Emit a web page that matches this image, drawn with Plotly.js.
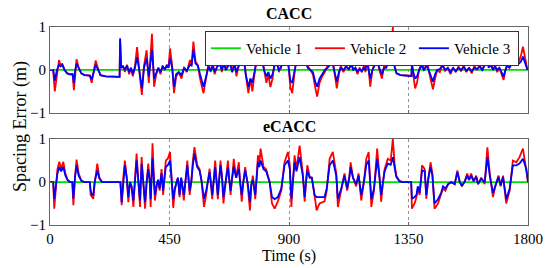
<!DOCTYPE html>
<html>
<head>
<meta charset="utf-8">
<script src="https://cdn.plot.ly/plotly-3.0.1.min.js"></script>
<style>
  html, body { margin: 0; padding: 0; background: #fff; }
  #plot { width: 550px; height: 268px; }
</style>
</head>
<body>
<div id="plot"></div>
<script>
// CACC (верхний график): время, ошибка дистанции у машин 2 и 3
const timeCacc = [0, 12, 18, 26, 34, 40, 46, 55, 65, 75, 85, 90, 95, 100, 108, 118, 130, 150, 157, 162, 172, 180, 190, 210, 262, 264, 268, 275, 282, 290, 298, 305, 312, 320, 328, 336, 346, 354, 364, 372, 378, 384, 392, 400, 408, 416, 424, 432, 440, 446, 452, 460, 467, 475, 485, 495, 505, 515, 527, 533, 540, 548, 557, 565, 578, 588, 597, 605, 613, 620, 630, 640, 647, 655, 662, 670, 678, 686, 695, 702, 710, 718, 728, 737, 747, 755, 762, 770, 780, 790, 798, 806, 815, 822, 830, 838, 846, 854, 862, 870, 878, 884, 890, 898, 905, 912, 920, 928, 934, 942, 950, 960, 970, 980, 990, 1000, 1006, 1015, 1025, 1035, 1045, 1055, 1062, 1070, 1080, 1088, 1095, 1105, 1115, 1125, 1135, 1142, 1150, 1158, 1166, 1174, 1182, 1188, 1193, 1200, 1206, 1214, 1222, 1231, 1240, 1250, 1258, 1266, 1274, 1282, 1291, 1298, 1305, 1320, 1361, 1363, 1368, 1375, 1382, 1390, 1400, 1408, 1420, 1430, 1442, 1450, 1458, 1468, 1478, 1488, 1498, 1508, 1518, 1528, 1538, 1548, 1558, 1568, 1578, 1588, 1598, 1608, 1618, 1628, 1636, 1645, 1652, 1660, 1668, 1676, 1684, 1692, 1700, 1708, 1715, 1722, 1730, 1740, 1750, 1758, 1766, 1774, 1781, 1790, 1798];
const v2Cacc = [0, 0, -0.5, -0.1, 0.23, 0.1, 0.15, 0, -0.08, -0.1, -0.1, -0.47, -0.05, 0.25, 0.05, -0.08, -0.12, -0.13, -0.3, -0.1, 0.22, 0.05, -0.12, -0.15, -0.16, 0.7, 0.05, 0.1, -0.05, 0.12, -0.1, 0.05, -0.15, 0.1, 0.53, 0, -0.58, 0.1, 0.46, -0.3, 0.2, 0.84, -0.39, -0.1, 0.05, -0.1, 0.1, 0, 0.12, 0.05, 0.5, 0.1, -0.54, -0.15, -0.05, -0.2, 0.05, -0.05, 0.23, 0.1, 0.66, 0.2, 0.1, -0.2, -0.54, -0.2, 0.15, -0.05, 0.15, -0.1, 0.1, 0.23, -0.05, 0.23, 0, 0.12, 0.27, -0.05, 0.2, -0.15, 0.1, 0.3, 0.62, -0.1, -0.54, -0.2, -0.5, -0.1, 0.35, 0.7, 0.3, 0, -0.3, -0.1, -0.4, -0.2, 0.2, 0.3, -0.05, 0.1, 0.55, 0.3, 0.6, 0.1, -0.4, -0.54, -0.1, 0.3, 0.5, 0.1, 0.3, 0.45, 0.1, 0, -0.1, -0.45, -0.62, -0.3, -0.15, -0.05, 0.1, 0.2, 0.35, 0, -0.43, -0.1, 0.1, -0.05, 0.1, 0, 0.2, 0, 0.05, -0.1, 0.05, -0.05, 0.1, -0.05, 0.39, 0, -0.39, 0, 0.15, 0.43, 0, -0.2, 0.1, 0.05, 0.3, 0.1, 1.0, 0.1, -0.08, -0.12, -0.14, 0.1, -0.1, -0.43, -0.3, 0, 0.2, 0, 0.15, -0.1, -0.45, -0.2, 0, -0.05, 0.15, -0.02, 0.05, -0.1, 0.05, -0.05, 0.08, -0.03, 0.1, -0.05, 0.05, -0.08, 0.1, 0, 0.12, -0.02, 0.15, 0.47, 0.1, 0.2, 0, 0.1, -0.05, 0.05, -0.1, -0.23, 0, 0.15, 0.05, 0.25, 0.2, 0.3, 0.2, 0.35, 0.54, 0.2, 0];
const v3Cacc = [0, 0, -0.25, 0, 0.12, 0.08, 0.12, 0, -0.08, -0.1, -0.1, -0.3, 0, 0.15, 0.05, -0.08, -0.12, -0.13, -0.22, -0.08, 0.12, 0.02, -0.12, -0.15, -0.16, 0.74, 0.05, 0.08, 0, 0.1, -0.05, 0.05, -0.1, 0.05, 0.3, 0, -0.43, 0.05, 0.27, -0.15, 0.15, 0.47, -0.2, -0.05, 0.05, -0.05, 0.08, 0.02, 0.1, 0.05, 0.27, 0.05, -0.39, -0.1, -0.05, -0.12, 0.05, -0.02, 0.12, 0.1, 0.47, 0.15, 0.1, -0.1, -0.39, -0.15, 0.08, -0.02, 0.1, -0.05, 0.08, 0.12, 0, 0.15, 0, 0.08, 0.15, -0.05, 0.12, -0.05, 0.08, 0.15, 0.35, -0.1, -0.39, -0.2, -0.3, -0.05, 0.3, 0.47, 0.2, 0, -0.15, -0.05, -0.2, -0.1, 0.1, 0.15, 0, 0.05, 0.3, 0.2, 0.35, 0.1, -0.25, -0.3, -0.05, 0.2, 0.35, 0.1, 0.2, 0.3, 0.05, 0, -0.05, -0.3, -0.39, -0.2, -0.1, 0, 0.05, 0.12, 0.2, 0, -0.27, -0.05, 0.05, 0, 0.08, 0.02, 0.12, 0, 0.05, -0.05, 0.03, -0.03, 0.05, 0, 0.2, 0, -0.2, 0, 0.1, 0.2, 0.05, -0.1, 0.05, 0.05, 0.2, 0.1, 0.45, 0.05, -0.08, -0.12, -0.14, 0.15, -0.05, -0.2, -0.15, 0, 0.1, 0, 0.1, -0.05, -0.27, -0.1, 0, 0.02, 0.1, 0, 0.05, -0.05, 0.05, -0.03, 0.05, 0, 0.07, -0.02, 0.05, -0.03, 0.05, 0.02, 0.08, 0, 0.1, 0.27, 0.05, 0.12, 0, 0.08, 0, 0.05, -0.05, -0.15, 0, 0.1, 0.05, 0.15, 0.12, 0.2, 0.15, 0.2, 0.31, 0.15, 0];

// eCACC (нижний график)
const timeEcacc = [0, 12, 16, 22, 28, 35, 42, 50, 58, 66, 75, 84, 88, 94, 100, 108, 118, 130, 150, 153, 158, 163, 168, 178, 186, 196, 265, 270, 276, 282, 289, 295, 301, 307, 314, 320, 326, 333, 339, 345, 351, 358, 364, 370, 376, 379, 386, 391, 395, 402, 407, 413, 420, 426, 436, 444, 452, 458, 464, 470, 476, 482, 488, 494, 504, 510, 517, 526, 532, 538, 544, 554, 563, 570, 580, 588, 594, 601, 611, 616, 622, 632, 637, 642, 648, 653, 660, 670, 676, 680, 686, 692, 701, 711, 716, 722, 728, 735, 745, 753, 758, 764, 773, 778, 783, 788, 793, 804, 814, 827, 836, 846, 858, 871, 878, 883, 896, 903, 909, 915, 921, 928, 940, 952, 959, 964, 969, 978, 986, 996, 1004, 1015, 1034, 1042, 1047, 1053, 1065, 1078, 1084, 1097, 1109, 1119, 1127, 1132, 1141, 1153, 1162, 1172, 1182, 1191, 1200, 1205, 1210, 1220, 1226, 1232, 1241, 1247, 1254, 1260, 1272, 1283, 1291, 1298, 1304, 1316, 1329, 1360, 1363, 1373, 1380, 1385, 1392, 1401, 1411, 1417, 1425, 1433, 1440, 1448, 1461, 1473, 1480, 1489, 1499, 1511, 1524, 1534, 1543, 1551, 1561, 1571, 1578, 1586, 1595, 1605, 1612, 1624, 1637, 1647, 1656, 1668, 1677, 1689, 1697, 1706, 1718, 1731, 1743, 1756, 1768, 1781, 1794, 1800];
const v2Ecacc = [0, 0, -0.62, -0.2, 0.3, 0.47, 0.3, 0.47, 0.2, 0.05, 0, 0, -0.54, 0.1, 0.52, 0.2, 0.03, 0, 0, -0.3, -0.35, -0.39, -0.05, 0.43, 0.1, 0, 0, -0.54, 0.1, 0.5, 0.1, -0.47, 0, -0.1, -0.58, 0.1, 0.66, 0, -0.58, 0.58, 0, -0.62, 0, 0.43, 0, -0.58, 0.9, 0.1, -0.43, -0.1, 0.05, -0.2, 0.3, -0.3, 0.5, 0.55, 0.7, 0.1, -0.6, -0.2, 0, 0.1, -0.35, 0.1, -0.43, 0, 0.5, -0.3, 0, 0.5, 0.81, 0.4, 0.3, 0.05, -0.58, -0.3, 0, 0.31, -0.4, 0, 0.5, -0.4, 0, 0.5, 0.1, -0.5, -0.1, 0.5, 0, -0.3, 0.1, 0.54, 0.1, 0.46, 0, -0.46, 0, 0.35, -0.1, -0.66, -0.1, 0.15, -0.4, 0.1, 0.62, 0.4, 0.78, 0.35, 0.3, 0, -0.5, -0.62, -0.45, -0.2, 0.2, 0.46, 0.7, 0.4, -0.58, 0, 0.62, 0.3, 0.85, 0.2, -0.46, 0, 0.39, 0.12, 0.1, -0.3, -0.66, -0.5, -0.45, -0.2, 0.1, 0.54, 0.7, 0.2, -0.58, -0.2, 0.2, -0.2, 0.1, 0.46, 0.1, -0.1, 0.2, -0.43, 0, 0.54, 0.7, 0.1, -0.58, -0.2, 0.2, 0.78, 0.1, -0.46, 0, 0.3, 0.54, 0.5, 1.0, 0.4, 0.15, 0.02, 0, 0, -0.62, -0.5, -0.35, -0.15, -0.3, 0.39, 0.3, -0.39, 0.1, 0.46, 0.2, -0.62, -0.5, -0.3, -0.15, -0.2, -0.05, 0, -0.05, 0.27, 0, -0.1, 0, 0.2, 0.05, 0.2, 0.02, 0.15, -0.05, 0.1, -0.05, 0.81, 0.2, -0.35, -0.1, 0.15, -0.1, 0.15, -0.5, -0.2, 0.5, 0.46, 0.58, 0.78, 0.3, 0];
const v3Ecacc = [0, 0, -0.39, -0.1, 0.2, 0.35, 0.25, 0.35, 0.15, 0.05, 0, 0, -0.39, 0.1, 0.39, 0.15, 0.03, 0, 0, -0.2, -0.3, -0.3, 0, 0.27, 0.08, 0, 0, -0.47, 0.05, 0.39, 0.1, -0.35, 0, -0.1, -0.43, 0.1, 0.5, 0, -0.43, 0.42, 0, -0.47, 0, 0.3, 0, -0.4, 0.55, 0.1, -0.3, -0.05, 0.05, -0.15, 0.2, -0.2, 0.35, 0.4, 0.5, 0.05, -0.4, -0.15, 0, 0.1, -0.3, 0.1, -0.3, 0, 0.39, -0.2, 0, 0.4, 0.66, 0.35, 0.27, 0.05, -0.39, -0.2, 0, 0.23, -0.3, 0, 0.35, -0.3, 0, 0.39, 0.1, -0.35, -0.05, 0.35, 0, -0.2, 0.1, 0.35, 0.1, 0.31, 0, -0.3, 0, 0.27, -0.05, -0.46, -0.05, 0.05, -0.3, 0.1, 0.46, 0.35, 0.5, 0.3, 0.25, 0, -0.35, -0.4, -0.35, -0.15, 0.15, 0.39, 0.5, 0.3, -0.39, 0, 0.46, 0.25, 0.58, 0.15, -0.35, 0, 0.27, 0.1, 0.1, -0.3, -0.35, -0.35, -0.35, -0.15, 0.1, 0.39, 0.5, 0.15, -0.39, -0.15, 0.15, -0.15, 0.1, 0.35, 0.1, -0.05, 0.15, -0.3, 0, 0.4, 0.5, 0.1, -0.4, -0.15, 0.2, 0.54, 0.1, -0.3, 0, 0.25, 0.43, 0.4, 0.58, 0.35, 0.12, 0.02, 0, 0, -0.39, -0.35, -0.3, -0.1, -0.25, 0.27, 0.25, -0.3, 0.1, 0.35, 0.15, -0.5, -0.4, -0.25, -0.1, -0.15, -0.05, 0, -0.05, 0.23, 0, -0.08, 0, 0.15, 0.05, 0.15, 0.02, 0.12, -0.05, 0.08, 0, 0.58, 0.15, -0.25, -0.08, 0.12, -0.08, 0.12, -0.4, -0.15, 0.39, 0.39, 0.43, 0.54, 0.3, 0];

const xRange = [0, 1800];
const xTicks = [0, 450, 900, 1350, 1800];
const yTicks = [-1, 0, 1];
const names = ['Vehicle 1', 'Vehicle 2', 'Vehicle 3'];
const colors = ['#00dd00', '#ff0000', '#0000ff'];

const font = 'Liberation Serif';

function series(x, y, i, xa, ya, legend) {
    return {
        x: x, y: y, xaxis: xa, yaxis: ya,
        mode: 'lines', type: 'scatter',
        name: names[i], showlegend: legend,
        line: { color: colors[i], width: 1.8 }
    };
}

const traces = [
    series(xRange, [0, 0], 0, 'x2', 'y2', true),
    series(timeCacc, v2Cacc, 1, 'x2', 'y2', true),
    series(timeCacc, v3Cacc, 2, 'x2', 'y2', true),
    series(xRange, [0, 0], 0, 'x', 'y', false),
    series(timeEcacc, v2Ecacc, 1, 'x', 'y', false),
    series(timeEcacc, v3Ecacc, 2, 'x', 'y', false)
];

const axisX = {
    range: xRange, tickvals: xTicks,
    showline: true, mirror: true, linecolor: '#666', linewidth: 1,
    ticks: 'inside', ticklen: 3, tickcolor: '#666',
    showgrid: true, gridcolor: '#777', griddash: 'dot', gridwidth: 0.8,
    zeroline: false,
    tickfont: { family: font, size: 15, color: '#000' }
};
const axisY = {
    range: [-1, 1], tickvals: yTicks,
    showline: true, mirror: true, linecolor: '#666', linewidth: 1,
    ticks: 'inside', ticklen: 3, tickcolor: '#666',
    showgrid: false, zeroline: false,
    tickfont: { family: font, size: 15, color: '#000' }
};

const layout = {
    width: 550, height: 268,
    margin: { l: 50, r: 22, t: 27, b: 43 },
    paper_bgcolor: '#fff', plot_bgcolor: '#fff',
    font: { family: font, size: 15, color: '#000' },
    xaxis: Object.assign({}, axisX, {
        anchor: 'y',
        title: { text: 'Time (s)', standoff: 0, font: { family: font, size: 16 } }
    }),
    yaxis: Object.assign({}, axisY, { domain: [0, 0.434], anchor: 'x' }),
    xaxis2: Object.assign({}, axisX, { anchor: 'y2', showticklabels: false, matches: 'x' }),
    yaxis2: Object.assign({}, axisY, { domain: [0.566, 1], anchor: 'x2' }),
    showlegend: true,
    legend: {
        orientation: 'h', x: 0.981, xanchor: 'right', y: 0.98, yanchor: 'top',
        bgcolor: '#fff', bordercolor: '#333', borderwidth: 1,
        font: { family: font, size: 15, color: '#000' },
        itemwidth: 30, tracegroupgap: 0, entrywidth: 59, entrywidthmode: 'pixels'
    },
    annotations: [
        { text: '<b>CACC</b>', xref: 'paper', yref: 'paper', x: 0.5, y: 1.066, yanchor: 'middle',
          showarrow: false, font: { family: font, size: 16 } },
        { text: '<b>eCACC</b>', xref: 'paper', yref: 'paper', x: 0.5, y: 0.5, yanchor: 'middle',
          showarrow: false, font: { family: font, size: 16 } },
        { text: 'Spacing Error (m)', xref: 'paper', yref: 'paper', x: -0.063, y: 0.5,
          xanchor: 'center', yanchor: 'middle', showarrow: false,
          textangle: -90, font: { family: font, size: 18 } }
    ]
};

Plotly.newPlot('plot', traces, layout, { staticPlot: true });
</script>
</body>
</html>
